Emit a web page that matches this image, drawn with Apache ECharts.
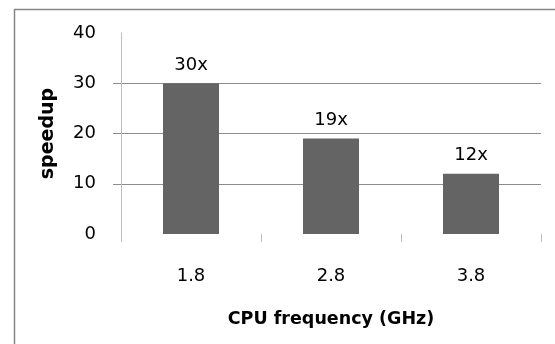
<!DOCTYPE html>
<html>
<head>
<meta charset="utf-8">
<script src="https://cdn.jsdelivr.net/npm/echarts@6/dist/echarts.min.js"></script>
<style>
  html, body { margin: 0; padding: 0; background: #fff; }
  #chart { width: 555px; height: 344px; }
</style>
</head>
<body>
<div id="chart"></div>
<script>
// CPU frequency vs. speedup
const categories = ['1.8', '2.8', '3.8'];
const speedup = [30, 19, 12];
const yTicks = [0, 10, 20, 30, 40];
const yGridValues = [10, 20, 30];

const FONT = 'DejaVu Sans';
const chart = echarts.init(document.getElementById('chart'), null, { renderer: 'canvas' });

chart.setOption({
  animation: false,
  backgroundColor: '#ffffff',
  textStyle: { fontFamily: FONT },
  graphic: [{
    type: 'rect',
    shape: { x: 14.5, y: 9.5, width: 700, height: 500 },
    style: { fill: 'none', stroke: '#868686', lineWidth: 1.5 },
    silent: true
  }],
  grid: { left: 121, right: 14, top: 33, bottom: 110, containLabel: false },
  xAxis: {
    type: 'category',
    data: categories,
    name: 'CPU frequency (GHz)',
    nameLocation: 'middle',
    nameGap: 76,
    nameTextStyle: { fontFamily: FONT, fontSize: 17.5, fontWeight: 'bold', color: '#000' },
    axisLine: { show: false },
    axisTick: { show: true, length: 8, inside: false, lineStyle: { color: '#bdbdbd' } },
    axisLabel: { margin: 33, fontFamily: FONT, fontSize: 18, color: '#000' },
    splitLine: { show: false }
  },
  yAxis: {
    type: 'value',
    min: yTicks[0],
    max: yTicks[yTicks.length - 1],
    interval: 10,
    name: 'speedup',
    nameLocation: 'middle',
    nameGap: 63,
    nameTextStyle: { fontFamily: FONT, fontSize: 19, fontWeight: 'bold', color: '#000' },
    axisLine: { show: true, lineStyle: { color: '#bdbdbd' } },
    axisTick: { show: true, length: 8, customValues: yGridValues, lineStyle: { color: '#8c8c8c' } },
    axisLabel: { margin: 25, fontFamily: FONT, fontSize: 18, color: '#000' },
    splitLine: { show: true, lineStyle: { color: '#8c8c8c', width: 1 } }
  },
  series: [{
    type: 'bar',
    data: speedup,
    barWidth: '40%',
    itemStyle: { color: '#646464' },
    label: {
      show: true,
      position: 'top',
      distance: 9,
      formatter: p => p.value + 'x',
      fontFamily: FONT,
      fontSize: 18,
      color: '#000'
    }
  }]
});
</script>
</body>
</html>
